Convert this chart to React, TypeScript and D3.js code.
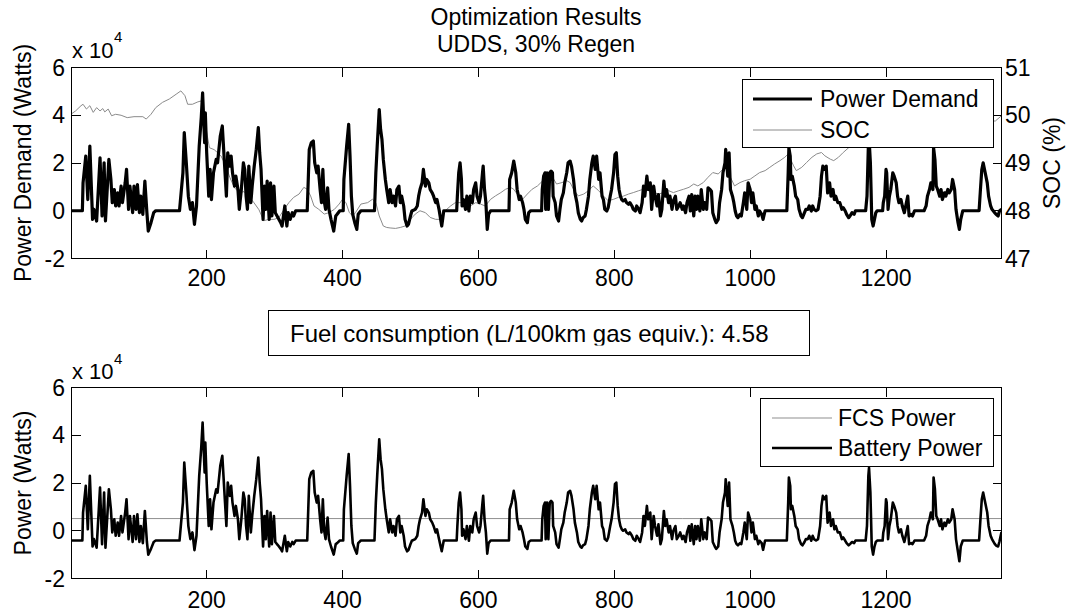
import React from 'react';
import * as d3 from 'd3';

// ---------- data ----------
const demandTime = [
  1, 17, 18, 22, 25, 28, 32, 34, 38, 43, 46, 49, 51, 56, 59, 61, 64, 66, 69, 71,
  74, 76, 80, 82, 85, 87, 91, 93, 96, 98, 101, 103, 106, 109, 112, 114, 118, 122, 125, 160,
  165, 167, 170, 173, 176, 179, 182, 185, 189, 192, 194, 197, 198, 200, 203, 205, 207, 210, 214, 216,
  220, 223,
  227, 229, 231, 234, 236, 238, 241, 243, 246, 248, 251, 254, 256, 258, 260, 262, 265, 267, 270, 273,
  276, 278, 280, 283, 285, 287, 289, 292, 294, 296, 299, 301, 305, 309, 311, 315, 318, 320, 323, 326,
  328, 331, 348, 351, 354, 357, 359, 362, 364, 367, 369, 371, 373, 375, 378, 380, 383, 387, 390, 392,
  396, 401, 402, 406, 409, 411, 413, 415, 418, 421, 423, 427, 447, 449, 451, 454,
  456, 458, 460, 463, 465, 468, 470, 473, 475, 478, 480, 483, 485, 487, 490, 492, 495, 497, 500, 502,
  507, 510, 512, 514, 517, 519, 522, 524, 527, 529, 532, 534, 537, 539, 542, 544, 546, 549, 568, 569,
  571, 573, 575, 576, 578, 581, 583, 586, 588, 591, 593, 596, 598, 601, 603, 606, 607, 609, 611, 613,
  615, 618, 645, 646, 649, 652, 655, 657, 660, 662, 665, 667, 669, 672, 674, 677,
  693, 694, 696, 698, 699, 701, 703, 705, 707, 709, 710, 713, 715, 718, 720, 722, 725, 727, 730, 732,
  735, 737, 740, 742, 745, 747, 750, 752, 754, 757, 759, 762, 764, 767, 769, 772, 774, 777, 779, 782,
  784, 786, 789, 791, 794, 796, 799, 801, 803, 805, 807, 809, 811, 813, 816, 818, 821, 823, 826, 828,
  831, 833, 836, 838, 841, 843, 845, 848, 850, 853, 855, 858, 860, 863, 865, 868, 870, 873, 875, 877,
  880, 882, 885, 887, 890, 892, 895, 897, 900, 902, 905, 907, 910, 912, 914, 917, 919,
  921, 923, 926, 928, 931, 933, 936, 938, 941, 943, 945, 948, 950, 953, 955, 958, 960, 963, 964, 967,
  969, 971, 974, 976, 978, 980, 982, 985, 987, 990, 992, 995, 997, 1000, 1002, 1004, 1007, 1009, 1012, 1014,
  1017, 1019, 1022, 1054, 1056, 1057, 1059, 1060, 1062, 1065, 1067, 1070, 1072, 1075, 1077, 1080, 1082, 1085, 1087, 1090,
  1092, 1094, 1097, 1100, 1103, 1105, 1107, 1109, 1112, 1114, 1117, 1119, 1122, 1124, 1126, 1129, 1132, 1135, 1137, 1140,
  1142, 1145, 1147, 1150,
  1153, 1155, 1170, 1172, 1174, 1175, 1177, 1178, 1179, 1181, 1183, 1185, 1187, 1195, 1196, 1198, 1200, 1201, 1203, 1205,
  1207, 1210, 1212, 1215, 1217, 1219, 1222, 1224, 1227, 1229, 1232, 1234, 1237, 1239, 1242, 1256, 1259, 1261, 1264, 1266,
  1269, 1270, 1272, 1274, 1276, 1279, 1281, 1283, 1286, 1288, 1291, 1293, 1296, 1298, 1301, 1303, 1306, 1308, 1310, 1313,
  1337, 1339, 1341, 1343, 1346, 1349, 1351, 1354, 1356, 1360, 1362, 1365, 1367, 1370,
];

const powerDemand = [
  0, 0, 11700, 22900, 4700, 27100, -3600, 600, -4300, 22200, -2200, 20100, -4300, 21500, 13100, 3400, 8900, 2000, 7500, 2000,
  10300, 3400, 11700, 17300, 600, 10300, -800, 10300, 600, 11000, -800, 6100, -1500, 12400, -800, -8500, -5000, -800, 0, 0,
  15900, 32700, 20100, 6100, 600, 3400, -5700, 2000, 27100, 39000, 49400, 28500, 41000, 24300, 6100, 17300, 4700, 15900, 21500, 20100,
  31300, 35500,
  15900, 6100, 24300, 18700, 22900, 15900, 10300, 14500, 8900, 600, 8900, 20100, 17300, 6100, 600, 18700, 3400, 10300, 18700, 25700,
  34800, 24300, 17300, -3600, 10300, 600, 12400, -3600, 11700, -2200, 10300, -800, -2900, -5000, -6400, 2000, -6400, -800, -3600, -800,
  -2200, 0, 0, 25700, 28500, 29200, 20100, 15900, 18700, 8900, 3400, 17300, 4100, 600, 9600, 600, -3600, -8500, -2200, -1500,
  0, 0, 13100, 27100, 36200, 22900, 6100, -1500, -5000, -7800, -1500, 0, 0, 15900, 27100, 42400,
  34100, 29900, 21500, 13100, 8900, 3400, 8900, 3400, 6100, 2000, 8900, 10300, 3400, 6100, 2000, -3600, -6400, -5700, -2200, -100,
  600, 2000, 6100, 8900, 11700, 17300, 10300, 13100, 11700, 8900, 7500, 6100, 3400, 4700, 600, -2900, -6400, 0, 0, 6100,
  15900, 20100, 13100, 2000, 4700, 600, 6100, -100, 6100, 3400, 8900, 11700, 6100, 3400, 6100, 15900, 18700, 8900, 3400, -7800,
  -1500, 0, 0, 13100, 15900, 20800, 15900, 8900, 4700, 6100, 3400, 600, -3600, -5000, -800, 0,
  0, 8900, 14500, 15900, 600, 15900, 600, 15900, 16600, 15900, 6100, 3400, -2200, -4300, 600, 4700, 7500, 11700, 15900, 20100,
  20800, 18700, 13100, 7500, 3400, -800, -3600, -4300, -2900, -2200, 600, 6100, 13100, 20100, 22900, 17300, 22900, 13100, 15900, 6100,
  4700, 600, -100, 1300, 6100, 8900, 15900, 23600, 24300, 14500, 8900, 6100, 4700, 4100, 4700, 3400, 2700, 3400, 2000, 600,
  -100, 2000, 600, -800, 3400, 10300, 6100, 14500, 8900, 11700, 600, 10300, 6100, 2000, 6800, -2200, 600, 12400, 6100, 8900,
  3400, 6100, 600, 4100, 6100, 600, 2000, 3400, 600, 2000, -800, 3400, 6100, -100, 6800, -2200, 6100,
  600, 6100, -100, 8900, 600, 3400, 600, 9600, 8900, 8200, -800, -3600, -5000, -3600, 3400, 8900, 15900, 20100, 25700, 14500,
  24300, 8900, 6100, 3400, -100, -2200, -2900, -1500, -2200, 3400, 7500, 600, 11700, 8900, 3400, 7500, 600, 2000, -2200, -100,
  -1500, -3600, 0, 0, 15900, 26400, 22900, 13100, 14500, 10300, 6100, 4700, 600, -2200, -2900, -800, 600, 600, 2000, -100,
  2000, 600, 0, 600, 6100, 14500, 18700, 17300, 18700, 7500, 11700, 6100, 8900, 4700, 6100, 3400, 3400, 600, 1300, -100,
  -1500, -2900, -2200, -800,
  -1500, 0, 0, 6100, 27100, 30500, 20100, 8900, -3600, -6400, -3600, -800, 0, 0, 3400, 6100, 17300, 15900, 600, 6100,
  8900, 15900, 14500, 11700, 6100, 3400, 4700, 2000, -800, 2000, 6100, -2200, -1500, -2200, 0, 0, 2000, 6100, 8900, 11700,
  8900, 26400, 21500, 10300, 8900, 6100, 8900, 4700, 7500, 6100, 8900, 7500, 8900, 13100, 8900, 600, -5000, -7800, -3600, 0,
  0, 8900, 17300, 20100, 15900, 11700, 6100, 2000, 600, -800, -1500, -2200, -100, 600,
];

const batteryPower = [
  -4100, -4100, 7600, 18800, 600, 23000, -6600, -3500, -7100, 18100, -5600, 16000, -7100, 17400, 9000, -700, 4800, -2100, 3400, -2100,
  6200, -700, 7600, 13200, -3500, 6200, -4700, 6200, -3500, 6900, -4700, 2000, -5200, 8300, -4700, -10000, -7600, -4700, -4100, -4100,
  11800, 28600, 16000, 2000, -3500, -700, -8100, -2100, 23000, 34900, 45300, 24400, 36900, 20200, 2000, 13200, 600, 11800, 17400, 16000,
  27200, 31400,
  11800, 2000, 20200, 14600, 18800, 11800, 6200, 10400, 4800, -3500, 4800, 16000, 13200, 2000, -3500, 14600, -700, 6200, 14600, 21600,
  30700, 20200, 13200, -6600, 6200, -3500, 8300, -6600, 7600, -5600, 6200, -4700, -6100, -7600, -8600, -2100, -8600, -4700, -6600, -4700,
  -5600, -4100, -4100, 21600, 24400, 25100, 16000, 11800, 14600, 4800, -700, 13200, 0, -3500, 5500, -3500, -6600, -10000, -5600, -5200,
  -4100, -4100, 9000, 23000, 32100, 18800, 2000, -5200, -7600, -9600, -5200, -4100, -4100, 11800, 23000, 38300,
  30000, 25800, 17400, 9000, 4800, -700, 4800, -700, 2000, -2100, 4800, 6200, -700, 2000, -2100, -6600, -8600, -8100, -5600, -4200,
  -3500, -2100, 2000, 4800, 7600, 13200, 6200, 9000, 7600, 4800, 3400, 2000, -700, 600, -3500, -6100, -8600, -4100, -4100, 2000,
  11800, 16000, 9000, -2100, 600, -3500, 2000, -4200, 2000, -700, 4800, 7600, 2000, -700, 2000, 11800, 14600, 4800, -700, -9600,
  -5200, -4100, -4100, 9000, 11800, 16700, 11800, 4800, 600, 2000, -700, -3500, -6600, -7600, -4700, -4100,
  -4100, 4800, 10400, 11800, -3500, 11800, -3500, 11800, 12500, 11800, 2000, -700, -5600, -7100, -3500, 600, 3400, 7600, 11800, 16000,
  16700, 14600, 9000, 3400, -700, -4700, -6600, -7100, -6100, -5600, -3500, 2000, 9000, 16000, 18800, 13200, 18800, 9000, 11800, 2000,
  600, -3500, -4200, -2800, 2000, 4800, 11800, 19500, 20200, 10400, 4800, 2000, 600, 0, 600, -700, -1400, -700, -2100, -3500,
  -4200, -2100, -3500, -4700, -700, 6200, 2000, 10400, 4800, 7600, -3500, 6200, 2000, -2100, 2700, -5600, -3500, 8300, 2000, 4800,
  -700, 2000, -3500, 0, 2000, -3500, -2100, -700, -3500, -2100, -4700, -700, 2000, -4200, 2700, -5600, 2000,
  -3500, 2000, -4200, 4800, -3500, -700, -3500, 5500, 4800, 4100, -4700, -6600, -7600, -6600, -700, 4800, 11800, 16000, 21600, 10400,
  20200, 4800, 2000, -700, -4200, -5600, -6100, -5200, -5600, -700, 3400, -3500, 7600, 4800, -700, 3400, -3500, -2100, -5600, -4200,
  -5200, -8000, -4100, -4100, 11800, 22300, 18800, 9000, 10400, 6200, 2000, 600, -3500, -5600, -6100, -4700, -3500, -3500, -2100, -4200,
  -2100, -3500, -4100, -3500, 2000, 10400, 14600, 13200, 14600, 3400, 7600, 2000, 4800, 600, 2000, -700, -700, -3500, -2800, -4200,
  -5200, -6100, -5600, -4700,
  -5200, -4100, -4100, 2000, 23000, 26400, 16000, 4800, -6600, -10000, -6600, -4700, -4100, -4100, -700, 2000, 13200, 11800, -3500, 2000,
  4800, 11800, 10400, 7600, 2000, -700, 600, -2100, -4700, -2100, 2000, -5600, -5200, -5600, -4100, -4100, -2100, 2000, 4800, 7600,
  4800, 22300, 17400, 6200, 4800, 2000, 4800, 600, 3400, 2000, 4800, 3400, 4800, 9000, 4800, -3500, -9000, -12800, -6600, -4100,
  -4100, 4800, 13200, 16000, 11800, 7600, 2000, -2100, -3500, -5500, -6200, -6600, -4500, -500,
];

const socTime = [
  1, 7, 15, 18, 23, 28, 33, 38, 43, 47, 50, 55, 60, 66, 74, 83, 93, 106, 111, 118,
  125, 135, 145, 155, 162, 168, 172, 179, 187, 192, 204, 211, 221, 228, 234, 241, 248, 255, 262, 269,
  277, 284, 291, 299, 306, 314, 321, 328, 336, 343, 348, 353, 358, 365, 373, 380, 388, 395, 400, 405,
  410, 415, 419, 427, 437, 444, 449, 454, 460, 465, 470, 478, 485, 492, 500, 507, 514, 522, 529, 537,
  544, 551, 559, 566, 574, 581, 588, 596, 603, 610, 618, 625, 633, 640, 647, 652, 657, 665, 672, 679,
  687, 692, 700, 708, 715, 723, 730, 735, 740, 747, 755, 762, 769, 777, 784, 791, 799, 806, 814, 821,
  828, 836, 843, 850, 858, 865, 873, 880, 887, 895, 902, 910, 917, 923, 931, 938, 945, 953, 960, 965,
  970, 977, 985, 992, 1000, 1007, 1014, 1022, 1029, 1036, 1044, 1051, 1056, 1064, 1068, 1076, 1083, 1091, 1098, 1105,
  1110, 1118, 1123, 1130, 1137, 1145, 1152, 1200, 1260, 1320, 1361, 1370,
];

const socPercent = [
  50.03, 50.09, 50.2, 50.23, 50.13, 50.2, 50.06, 50.16, 50.09, 50.14, 50.07, 50.13, 49.99, 50.02, 50.0, 49.95, 49.97, 49.97, 49.92, 50.02,
  50.16, 50.27, 50.34, 50.44, 50.51, 50.41, 50.23, 50.23, 50.28, 50.3, 49.32, 49.28, 49.15, 48.95, 48.7, 48.48, 48.38, 48.4, 48.3, 48.18,
  48.02, 47.79, 47.82, 47.82, 47.85, 48.03, 48.17, 48.28, 48.35, 48.49, 48.45, 48.31, 48.1, 48.03, 47.93, 47.96, 48.03, 48.14, 48.24, 48.17,
  47.96, 47.89, 47.96, 48.14, 48.17, 48.24, 48.17, 47.89, 47.68, 47.65, 47.64, 47.63, 47.65, 47.68, 47.82, 47.93, 48.0, 47.96, 47.86, 47.82,
  47.82, 48.0, 48.1, 48.17, 48.17, 48.14, 48.1, 48.17, 48.14, 48.1, 48.24, 48.31, 48.38, 48.45, 48.49, 48.45, 48.35, 48.24, 48.35, 48.45,
  48.52, 48.59, 48.7, 48.73, 48.56, 48.59, 48.63, 48.59, 48.45, 48.31, 48.35, 48.42, 48.52, 48.42, 48.31, 48.21, 48.24, 48.28, 48.31, 48.35,
  48.38, 48.42, 48.45, 48.42, 48.38, 48.35, 48.38, 48.42, 48.38, 48.42, 48.45, 48.49, 48.56, 48.52, 48.59, 48.7, 48.8, 48.77, 48.87, 48.98,
  48.73, 48.52, 48.59, 48.63, 48.66, 48.73, 48.8, 48.84, 48.91, 48.98, 49.05, 49.12, 49.19, 48.94, 48.84, 48.91, 49.01, 49.12, 49.19, 49.22,
  49.15, 49.08, 49.05, 49.12, 49.22, 49.32, 49.38, 49.5, 49.7, 49.85, 49.88, 49.99,
];

const fcsTime = [1, 300, 600, 900, 1200, 1370];
const fcsPower = [5100, 5100, 5100, 5100, 5100, 5100];

const xTickValues = [200, 400, 600, 800, 1000, 1200];
const powerTickValues = [-20000, 0, 20000, 40000, 60000];
const socTickValues = [47, 48, 49, 50, 51];

const titleLines = ['Optimization Results', 'UDDS, 30% Regen'];
const fuelText = 'Fuel consumption (L/100km gas equiv.): 4.58';

// ---------- layout ----------
const W = 1071;
const H = 616;
const FONT = '"Liberation Sans", Arial, Helvetica, sans-serif';
const L = 71.5;
const R = 1001.5;
const TOP1 = 67.5;
const BOT1 = 258.5;
const TOP2 = 387.5;
const BOT2 = 578.5;
const TICK = 9;

export default function App() {
  const x = d3.scaleLinear().domain([1, 1370]).range([L, R]);
  const y1 = d3.scaleLinear().domain([-20000, 60000]).range([BOT1, TOP1]);
  const ySoc = d3.scaleLinear().domain([47, 51]).range([BOT1, TOP1]);
  const y2 = d3.scaleLinear().domain([-20000, 60000]).range([BOT2, TOP2]);

  const lineOf = (ts: number[], ys: number[], sy: d3.ScaleLinear<number, number>) =>
    d3
      .line<number>()
      .x((_, i) => x(ts[i]))
      .y((d) => sy(d))(ys) || '';

  const demandPath = lineOf(demandTime, powerDemand, y1);
  const socPath = lineOf(socTime, socPercent, ySoc);
  const batteryPath = lineOf(demandTime, batteryPower, y2);
  const fcsPath = lineOf(fcsTime, fcsPower, y2);

  const axesFrame = (top: number, bot: number, yScale: d3.ScaleLinear<number, number>, yTicks: number[], rightScale: d3.ScaleLinear<number, number>, rightTicks: number[], key: string) => (
    <g key={key} shapeRendering="crispEdges" stroke="#000" strokeWidth={1} fill="none">
      <rect x={L} y={top} width={R - L} height={bot - top} />
      {xTickValues.map((v) => (
        <g key={'xt' + v}>
          <line x1={x(v)} x2={x(v)} y1={bot} y2={bot - TICK} />
          <line x1={x(v)} x2={x(v)} y1={top} y2={top + TICK} />
        </g>
      ))}
      {yTicks.map((v) => (
        <line key={'yl' + v} x1={L} x2={L + TICK} y1={yScale(v)} y2={yScale(v)} />
      ))}
      {rightTicks.map((v) => (
        <line key={'yr' + v} x1={R} x2={R - TICK} y1={rightScale(v)} y2={rightScale(v)} />
      ))}
    </g>
  );

  const fs = 23;

  return (
    <svg width={W} height={H} style={{ position: 'absolute', left: 0, top: 0, background: '#fff' }} fontFamily={FONT}>
      <defs>
        <clipPath id="clipTop">
          <rect x={L} y={TOP1} width={R - L} height={BOT1 - TOP1} />
        </clipPath>
        <clipPath id="clipBot">
          <rect x={L} y={TOP2} width={R - L} height={BOT2 - TOP2} />
        </clipPath>
        <clipPath id="clipFuel">
          <rect x={268} y={311} width={541} height={34.5} />
        </clipPath>
      </defs>
      <rect x={0} y={0} width={W} height={H} fill="#fff" />

      {/* title */}
      {titleLines.map((t, i) => (
        <text key={t} x={536} y={25 + i * 27} textAnchor="middle" fontSize={fs} fill="#000">
          {t}
        </text>
      ))}

      {/* ---------- top axes ---------- */}
      <g clipPath="url(#clipTop)">
        <path d={socPath} fill="none" stroke="#8a8a8a" strokeWidth={1} />
        <path d={demandPath} fill="none" stroke="#000" strokeWidth={3.2} strokeLinejoin="round" />
      </g>
      {axesFrame(TOP1, BOT1, y1, powerTickValues, ySoc, socTickValues, 'f1')}
      {powerTickValues.map((v) => (
        <text key={'t1' + v} x={65} y={y1(v) + 8} textAnchor="end" fontSize={fs}>
          {v / 10000}
        </text>
      ))}
      {socTickValues.map((v) => (
        <text key={'s1' + v} x={1005} y={ySoc(v) + 8} textAnchor="start" fontSize={fs}>
          {v}
        </text>
      ))}
      {xTickValues.map((v) => (
        <text key={'x1' + v} x={x(v)} y={286} textAnchor="middle" fontSize={fs}>
          {v}
        </text>
      ))}
      <text x={72} y={58} fontSize={22}>x 10</text>
      <text x={114} y={42} fontSize={15}>4</text>
      <text transform={`translate(31,${(TOP1 + BOT1) / 2}) rotate(-90)`} textAnchor="middle" fontSize={fs}>
        Power Demand (Watts)
      </text>
      <text transform={`translate(1060,${(TOP1 + BOT1) / 2}) rotate(-90)`} textAnchor="middle" fontSize={fs}>
        SOC (%)
      </text>

      {/* top legend */}
      <g>
        <rect x={742.5} y={79.5} width={251} height={68} fill="#fff" stroke="#000" strokeWidth={1} shapeRendering="crispEdges" />
        <line x1={753} x2={812} y1={99} y2={99} stroke="#000" strokeWidth={3.2} />
        <line x1={753} x2={812} y1={130} y2={130} stroke="#8a8a8a" strokeWidth={1} />
        <text x={820} y={107} fontSize={fs}>Power Demand</text>
        <text x={820} y={138} fontSize={fs}>SOC</text>
      </g>

      {/* fuel consumption box */}
      <rect x={268.5} y={310.5} width={541} height={45} fill="#fff" stroke="#000" strokeWidth={1} shapeRendering="crispEdges" />
      <g clipPath="url(#clipFuel)">
        <text x={290} y={342} fontSize={24}>{fuelText}</text>
      </g>

      {/* ---------- bottom axes ---------- */}
      <g clipPath="url(#clipBot)">
        <path d={fcsPath} fill="none" stroke="#8f8f8f" strokeWidth={1} />
        <path d={batteryPath} fill="none" stroke="#000" strokeWidth={2.6} strokeLinejoin="round" />
      </g>
      {axesFrame(TOP2, BOT2, y2, powerTickValues, y2, powerTickValues, 'f2')}
      {powerTickValues.map((v) => (
        <text key={'t2' + v} x={65} y={y2(v) + 8} textAnchor="end" fontSize={fs}>
          {v / 10000}
        </text>
      ))}
      {xTickValues.map((v) => (
        <text key={'x2' + v} x={x(v)} y={608} textAnchor="middle" fontSize={fs}>
          {v}
        </text>
      ))}
      <text x={72} y={379} fontSize={22}>x 10</text>
      <text x={114} y={364} fontSize={15}>4</text>
      <text transform={`translate(31,${(TOP2 + BOT2) / 2}) rotate(-90)`} textAnchor="middle" fontSize={fs}>
        Power (Watts)
      </text>

      {/* bottom legend */}
      <g>
        <rect x={760.5} y={398.5} width={233} height={68} fill="#fff" stroke="#000" strokeWidth={1} shapeRendering="crispEdges" />
        <line x1={772} x2={832} y1={418} y2={418} stroke="#8f8f8f" strokeWidth={1} />
        <line x1={772} x2={832} y1={448} y2={448} stroke="#000" strokeWidth={2.6} />
        <text x={838} y={426} fontSize={fs}>FCS Power</text>
        <text x={838} y={456} fontSize={fs}>Battery Power</text>
      </g>
    </svg>
  );
}
